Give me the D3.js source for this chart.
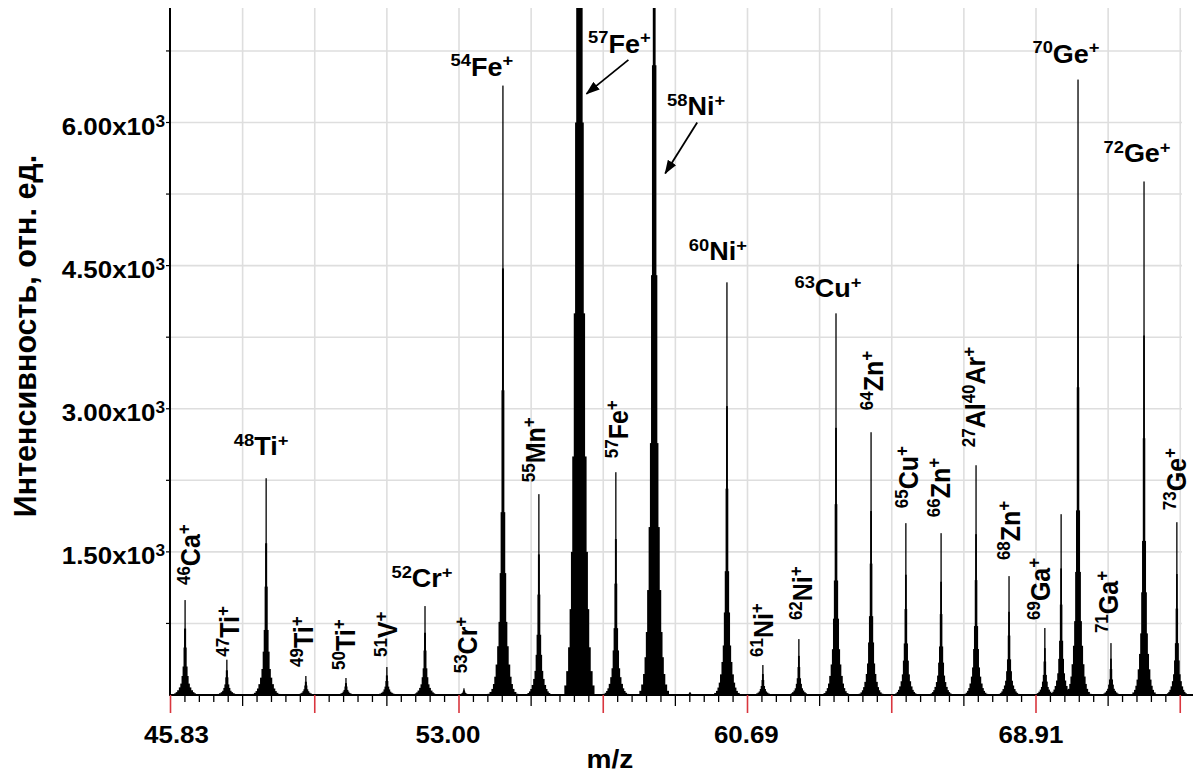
<!DOCTYPE html>
<html>
<head>
<meta charset="utf-8">
<script src="https://cdn.jsdelivr.net/npm/d3@7"></script>
<style>
  body { margin: 0; background: #fff; }
  svg { display: block; }
  text { font-family: "Liberation Sans", Arial, sans-serif; font-weight: bold; fill: #000; }
</style>
</head>
<body>
<svg id="chart" width="1200" height="780"></svg>
<script>
// ---- spectrum: peak centres (m/z), peak heights (rel. units) and annotations ----
const peakMz = [46.18, 47.19, 48.15, 49.13, 50.13, 51.16, 52.13, 53.13, 54.14, 55.08,
                56.15, 57.12, 58.15, 59.12, 60.13, 61.12, 62.12, 63.16, 64.15, 65.14,
                66.15, 67.16, 68.12, 69.17, 69.65, 70.15, 71.13, 72.12, 73.11];
const peakIntensity = [995, 370, 2272, 199, 178, 293, 932, 70, 6387, 2105,
                       50000, 2335, 22000, 30, 4325, 314, 586, 4000, 2754, 1801,
                       1696, 2408, 1246, 702, 1895, 6450, 544, 5382, 1811];
const peakLabels = ["{46}Ca{+}", "{47}Ti{+}", "{48}Ti{+}", "{49}Ti{+}", "{50}Ti{+}", "{51}V{+}", "{52}Cr{+}", "{53}Cr{+}", "{54}Fe{+}", "{55}Mn{+}",
                    "{57}Fe{+}", "{57}Fe{+}", "{58}Ni{+}", "", "{60}Ni{+}", "{61}Ni{+}", "{62}Ni{+}", "{63}Cu{+}", "{64}Zn{+}", "{65}Cu{+}",
                    "{66}Zn{+}", "{27}Al{40}Ar{+}", "{68}Zn{+}", "{69}Ga{+}", "", "{70}Ge{+}", "{71}Ga{+}", "{72}Ge{+}", "{73}Ge{+}"];

// common peak shape: relative level and full width (m/z) of each step
const profileLevel = [1, 0.7, 0.5, 0.3, 0.2, 0.12, 0.08, 0.05, 0.03, 0.018, 0.01, 0.005, 0.002];
const profileWidth = [0.025, 0.05, 0.075, 0.12, 0.17, 0.23, 0.30, 0.38, 0.45, 0.52, 0.60, 0.70, 0.80];

// axes
const yTickValues = [1500, 3000, 4500, 6000];
const yTickLabels = ["1.50x10", "3.00x10", "4.50x10", "6.00x10"];
const yGridStep = 750;
const yMax = 7200;
const xTickValues = [45.83, 53.00, 60.69, 68.91];
const xTickLabels = ["45.83", "53.00", "60.69", "68.91"];
const xTickLabelShift = [6, -11, -1, -5];

// ---- label placement (mode: v = vertical, h = horizontal, a = with arrow) ----
const labelLayout = [
  {mode: "v", dx: 15, gap: 15}, {mode: "v", dx: 12, gap: 3}, {mode: "h", dx: -5, gap: 23},
  {mode: "v", dx: 7, gap: 9}, {mode: "v", dx: 9, gap: 8}, {mode: "v", dx: 10, gap: 10},
  {mode: "h", dx: -3, gap: 19}, {mode: "v", dx: 13, gap: 15}, {mode: "h", dx: -21, gap: 10},
  {mode: "v", dx: 6, gap: 12},
  {mode: "a", tipValue: 6300, tipDx: 7, tailDx: 42, tailDy: -34, textDx: -9, textDy: -7},
  {mode: "v", dx: 12, gap: 14},
  {mode: "a", tipValue: 5466, tipDx: 11, tailDx: 32, tailDy: -51, textDx: -1, textDy: -7},
  {mode: ""}, {mode: "h", dx: -9, gap: 22}, {mode: "v", dx: 10, gap: 8},
  {mode: "v", dx: 13, gap: 19}, {mode: "h", dx: -8, gap: 16}, {mode: "v", dx: 12, gap: 22},
  {mode: "v", dx: 12, gap: 15}, {mode: "v", dx: 9, gap: 16}, {mode: "v", dx: 9, gap: 18},
  {mode: "v", dx: 11, gap: 16}, {mode: "v", dx: 5, gap: 8}, {mode: ""},
  {mode: "h", dx: -12, gap: 17}, {mode: "v", dx: 7, gap: 10}, {mode: "h", dx: -7, gap: 19},
  {mode: "v", dx: 9, gap: 12}
];

const svg = d3.select("#chart");
const plotLeft = 170, plotTop = 8, plotBase = 695, xEnd = 1193, gridRight = 1182;
const stretch = 1.08;
const labelMain = 25, labelSup = 17, labelRaise = 9.5;

// time-of-flight axis: linear in sqrt(m/z)
const x = d3.scaleSqrt().domain([45.83, 68.91]).range([170.5, 1036]);
const y = d3.scaleLinear().domain([0, yMax]).range([plotBase, plotTop]);

const s0 = Math.sqrt(xTickValues[0]);
const sStep = (Math.sqrt(xTickValues[3]) - s0) / 3;
const minorStep = sStep / 20;
const minorTicks = d3.range(0, 71).map(k => ({k, v: Math.pow(s0 + k * minorStep, 2)}));

// ---- grid ----
const grid = svg.append("g").attr("stroke", "#dedede").attr("stroke-width", 1.6);
grid.selectAll("line.h").data(d3.range(yGridStep, yMax, yGridStep)).join("line")
  .attr("x1", plotLeft).attr("x2", gridRight)
  .attr("y1", d => y(d)).attr("y2", d => y(d));
grid.selectAll("line.v").data(minorTicks.filter(t => t.k % 5 === 0 && t.k > 0)).join("line")
  .attr("x1", d => x(d.v)).attr("x2", d => x(d.v))
  .attr("y1", plotTop).attr("y2", plotBase);

// ---- peaks ----
svg.append("defs").append("clipPath").attr("id", "plotClip")
  .append("rect").attr("x", plotLeft).attr("y", plotTop).attr("width", 1200 - plotLeft).attr("height", plotBase - plotTop);

const peaks = peakMz.map((mz, i) => ({mz, h: peakIntensity[i], label: peakLabels[i], layout: labelLayout[i]}));
const steps = [];
peaks.forEach(p => profileLevel.forEach((lv, j) => steps.push({mz: p.mz, v: p.h * lv, w: profileWidth[j]})));
const stepWidth = d => Math.max(x(d.mz + d.w / 2) - x(d.mz - d.w / 2), 1.3);

svg.append("g").attr("clip-path", "url(#plotClip)").attr("fill", "#000")
  .selectAll("rect").data(steps).join("rect")
  .attr("x", d => x(d.mz) - stepWidth(d) / 2)
  .attr("width", stepWidth)
  .attr("y", d => y(d.v))
  .attr("height", d => Math.max(plotBase - y(d.v), 0));

// ---- axes ----
const ax = svg.append("g");
ax.append("line").attr("x1", plotLeft).attr("x2", plotLeft).attr("y1", plotTop).attr("y2", plotBase + 1)
  .attr("stroke", "#000").attr("stroke-width", 2);
ax.append("line").attr("x1", plotLeft).attr("x2", xEnd).attr("y1", plotBase).attr("y2", plotBase)
  .attr("stroke", "#000").attr("stroke-width", 2);

ax.selectAll("line.yt").data(d3.range(yGridStep, yMax, yGridStep)).join("line")
  .attr("x1", plotLeft - 4).attr("x2", plotLeft).attr("y1", d => y(d)).attr("y2", d => y(d))
  .attr("stroke", "#000").attr("stroke-width", 1.2);

ax.selectAll("line.xt").data(minorTicks).join("line")
  .attr("x1", d => x(d.v)).attr("x2", d => x(d.v))
  .attr("y1", plotBase)
  .attr("y2", d => plotBase + (d.k % 10 === 0 ? 18 : d.k % 5 === 0 ? 11 : 7))
  .attr("stroke", d => d.k % 10 === 0 ? "#d9363e" : "#000")
  .attr("stroke-width", d => d.k % 10 === 0 ? 1.6 : 1.3);

// text helper: "{sup}main{sup}" -> tspans
function parts(s) {
  const out = [], re = /\{([^}]*)\}|([^{]+)/g;
  let m;
  while ((m = re.exec(s))) out.push(m[1] !== undefined ? {t: m[1], sup: true} : {t: m[2], sup: false});
  return out;
}
function richText(sel, str, mainSize, supSize, raise) {
  let cur = 0;
  parts(str).forEach(p => {
    const target = p.sup ? -raise : 0;
    sel.append("tspan").attr("dy", target - cur).attr("font-size", p.sup ? supSize : mainSize).text(p.t);
    cur = target;
  });
}

// y tick labels
yTickValues.forEach((v, i) => {
  const t = svg.append("text").attr("text-anchor", "end")
    .attr("transform", `translate(165,${y(v) + 12}) scale(${stretch},1)`);
  richText(t, yTickLabels[i] + "{3}", 24, 16, 8);
});

// x tick labels
xTickValues.forEach((v, i) => {
  svg.append("text").attr("text-anchor", "middle").attr("font-size", 24)
    .attr("transform", `translate(${x(v) + xTickLabelShift[i]},743) scale(${stretch},1)`)
    .text(xTickLabels[i]);
});

// axis titles
svg.append("text").attr("text-anchor", "middle").attr("font-size", 26)
  .attr("transform", `translate(610,768) scale(${stretch},1)`).text("m/z");
svg.append("text").attr("text-anchor", "middle").attr("font-size", 30.5)
  .attr("transform", "translate(36,336) rotate(-90)").text("Интенсивность, отн. ед.");

// ---- peak annotations ----
svg.append("defs").append("marker").attr("id", "arrowHead")
  .attr("markerUnits", "userSpaceOnUse").attr("markerWidth", 14).attr("markerHeight", 10)
  .attr("refX", 13).attr("refY", 5).attr("orient", "auto")
  .append("path").attr("d", "M0,0 L14,5 L0,10 Z").attr("fill", "#000");

const labelG = svg.append("g");
peaks.forEach(p => {
  const L = p.layout;
  if (!L.mode) return;
  const px = x(p.mz);
  if (L.mode === "h") {
    const t = labelG.append("text").attr("text-anchor", "middle")
      .attr("transform", `translate(${px + L.dx},${y(p.h) - L.gap}) scale(${stretch},1)`);
    richText(t, p.label, labelMain, labelSup, labelRaise);
  } else if (L.mode === "v") {
    const t = labelG.append("text").attr("text-anchor", "start")
      .attr("transform", `translate(${px + L.dx},${y(p.h) - L.gap}) scale(${stretch},1) rotate(-90)`);
    richText(t, p.label, labelMain, labelSup, labelRaise);
  } else if (L.mode === "a") {
    const tipX = px + L.tipDx, tipY = y(L.tipValue);
    const tailX = tipX + L.tailDx, tailY = tipY + L.tailDy;
    labelG.append("line").attr("x1", tailX).attr("y1", tailY).attr("x2", tipX).attr("y2", tipY)
      .attr("stroke", "#000").attr("stroke-width", 1.8).attr("marker-end", "url(#arrowHead)");
    const t = labelG.append("text").attr("text-anchor", "middle")
      .attr("transform", `translate(${tailX + L.textDx},${tailY + L.textDy}) scale(${stretch},1)`);
    richText(t, p.label, labelMain, labelSup, labelRaise);
  }
});
</script>
</body>
</html>
